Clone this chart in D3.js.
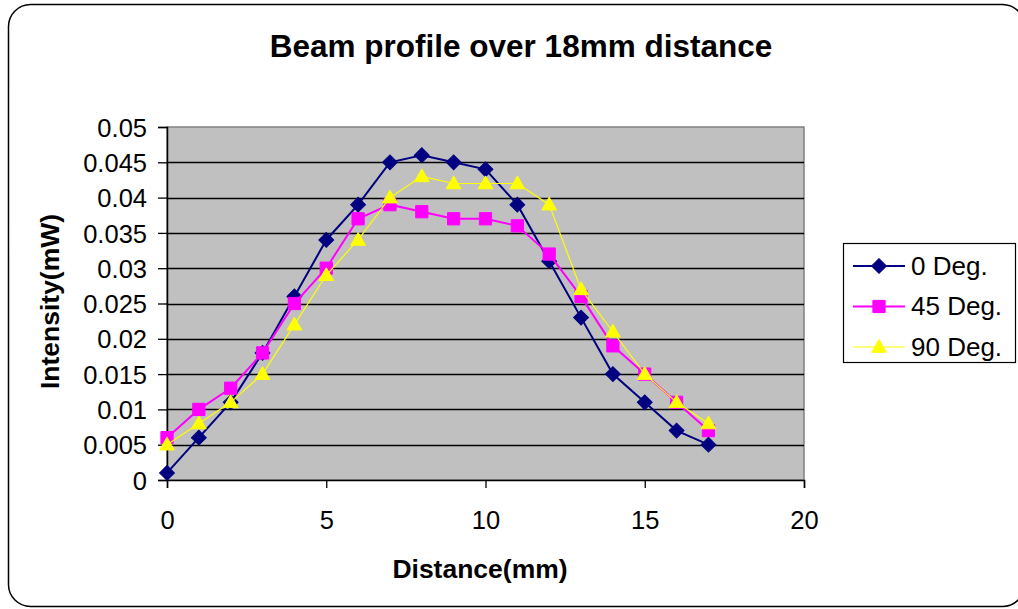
<!DOCTYPE html>
<html>
<head>
<meta charset="utf-8">
<script src="https://cdn.jsdelivr.net/npm/d3@7"></script>
<style>
  html, body { margin: 0; padding: 0; background: #fff; }
  svg { display: block; font-family: "Liberation Sans", Arial, sans-serif; }
</style>
</head>
<body>
<svg id="chart" width="1018" height="609"></svg>
<script>
// Measured beam intensity at each distance step, for three polarizer angles
const distances = [0, 1, 2, 3, 4, 5, 6, 7, 8, 9, 10, 11, 12, 13, 14, 15, 16, 17];
const deg0  = [0.001, 0.006, 0.011, 0.018, 0.026, 0.034, 0.039, 0.045, 0.046, 0.045, 0.044, 0.039, 0.031, 0.023, 0.015, 0.011, 0.007, 0.005];
const deg45 = [0.006, 0.010, 0.013, 0.018, 0.025, 0.030, 0.037, 0.039, 0.038, 0.037, 0.037, 0.036, 0.032, 0.026, 0.019, 0.015, 0.011, 0.007];
const deg90 = [0.005, 0.008, 0.011, 0.015, 0.022, 0.029, 0.034, 0.040, 0.043, 0.042, 0.042, 0.042, 0.039, 0.027, 0.021, 0.015, 0.011, 0.008];
const seriesNames = ["0 Deg.", "45 Deg.", "90 Deg."];
const xTicks = [0, 5, 10, 15, 20];
const yTicks = [0, 0.005, 0.01, 0.015, 0.02, 0.025, 0.03, 0.035, 0.04, 0.045, 0.05];

const series = [
  { name: seriesNames[0], values: deg0,  color: "#000080", width: 2,   symbol: "diamond" },
  { name: seriesNames[1], values: deg45, color: "#FF00FF", width: 2,   symbol: "square" },
  { name: seriesNames[2], values: deg90, color: "#FFFF00", width: 1.2, symbol: "triangle" }
];

const svg = d3.select("#chart");
const plot = { left: 167, top: 127, right: 804, bottom: 480 };
const FONT = "Liberation Sans, Arial, sans-serif";

// Outer rounded frame (runs slightly past the right edge)
svg.append("rect")
  .attr("x", 8.5).attr("y", 4.5)
  .attr("width", 1016).attr("height", 602)
  .attr("rx", 22).attr("ry", 22)
  .attr("fill", "#fff").attr("stroke", "#000").attr("stroke-width", 1.5);

const x = d3.scaleLinear().domain([0, 20]).range([plot.left, plot.right]);
const y = d3.scaleLinear().domain([0, 0.05]).range([plot.bottom, plot.top]);

// Plot background
svg.append("rect")
  .attr("x", plot.left).attr("y", plot.top)
  .attr("width", plot.right - plot.left).attr("height", plot.bottom - plot.top)
  .attr("fill", "#C0C0C0").attr("stroke", "#808080").attr("stroke-width", 1.5);

// Horizontal gridlines
svg.append("g").selectAll("line")
  .data(yTicks.filter(d => d > 0 && d < 0.05))
  .join("line")
  .attr("x1", plot.left).attr("x2", plot.right)
  .attr("y1", d => Math.round(y(d)) + 0.5).attr("y2", d => Math.round(y(d)) + 0.5)
  .attr("stroke", "#000").attr("stroke-width", 1.3);

// Y axis
const yAxis = svg.append("g")
  .attr("transform", `translate(${plot.left},0)`)
  .call(d3.axisLeft(y).tickValues(yTicks).tickSize(9).tickPadding(11)
    .tickFormat(d => d3.format("")(+d.toFixed(3))));
yAxis.select(".domain").attr("stroke", "#000").attr("stroke-width", 1.5);
yAxis.selectAll(".tick line").attr("stroke", "#000").attr("stroke-width", 1.3);
yAxis.selectAll(".tick text")
  .attr("font-size", 25.5).attr("fill", "#000").attr("font-family", FONT)
  .attr("dy", "0.36em");

// X axis
const xAxis = svg.append("g")
  .attr("transform", `translate(0,${plot.bottom})`)
  .call(d3.axisBottom(x).tickValues(xTicks).tickSize(8).tickPadding(23));
xAxis.select(".domain").attr("stroke", "#000").attr("stroke-width", 1.5);
xAxis.selectAll(".tick line").attr("stroke", "#000").attr("stroke-width", 1.3);
xAxis.selectAll(".tick text")
  .attr("font-size", 25.5).attr("fill", "#000").attr("font-family", FONT);

// Symbols
const symbolFor = {
  diamond: d3.symbol().type(d3.symbolSquare).size(110),
  square: d3.symbol().type(d3.symbolSquare).size(150),
  triangle: d3.symbol().type(d3.symbolTriangle).size(95)
};
function drawMarker(g, s, cx, cy) {
  const p = g.append("path")
    .attr("d", symbolFor[s.symbol]())
    .attr("fill", s.color).attr("stroke", s.color).attr("stroke-width", 1);
  if (s.symbol === "diamond") p.attr("transform", `translate(${cx},${cy}) rotate(45)`);
  else if (s.symbol === "triangle") p.attr("transform", `translate(${cx},${cy + 1})`);
  else p.attr("transform", `translate(${cx},${cy})`);
}

const line = d3.line().x((d, i) => x(distances[i])).y(d => y(d));

series.forEach(s => {
  const g = svg.append("g");
  g.append("path")
    .attr("d", line(s.values))
    .attr("fill", "none").attr("stroke", s.color).attr("stroke-width", s.width);
  s.values.forEach((v, i) => drawMarker(g, s, x(distances[i]), y(v)));
});

// Titles
svg.append("text")
  .attr("x", 521).attr("y", 57)
  .attr("text-anchor", "middle").attr("font-size", 31.5).attr("font-weight", "bold")
  .text("Beam profile over 18mm distance");

svg.append("text")
  .attr("x", 480).attr("y", 578)
  .attr("text-anchor", "middle").attr("font-size", 26.5).attr("font-weight", "bold")
  .text("Distance(mm)");

svg.append("text")
  .attr("transform", "translate(59,301.5) rotate(-90)")
  .attr("text-anchor", "middle").attr("font-size", 26.5).attr("font-weight", "bold")
  .text("Intensity(mW)");

// Legend
const legend = svg.append("g");
legend.append("rect")
  .attr("x", 843.5).attr("y", 243.5).attr("width", 172).attr("height", 119)
  .attr("fill", "#fff").attr("stroke", "#000").attr("stroke-width", 1.2);
series.forEach((s, i) => {
  const ly = 266 + i * 40.5;
  legend.append("line")
    .attr("x1", 853).attr("x2", 905).attr("y1", ly).attr("y2", ly)
    .attr("stroke", s.color).attr("stroke-width", s.width);
  drawMarker(legend, s, 879, ly);
  legend.append("text")
    .attr("x", 911).attr("y", ly + 8.5)
    .attr("font-size", 26).text(s.name);
});
</script>
</body>
</html>
